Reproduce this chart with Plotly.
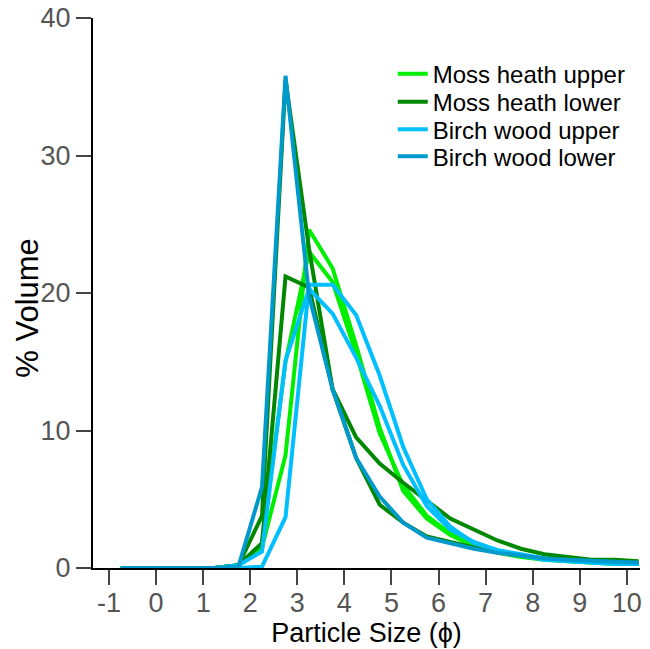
import plotly.graph_objects as go

phi = [-0.75, -0.25, 0.25, 0.75, 1.25, 1.75, 2.25, 2.75, 3.25, 3.75, 4.25, 4.75,
       5.25, 5.75, 6.25, 6.75, 7.25, 7.75, 8.25, 8.75, 9.25, 9.75, 10.25]

moss_upper_a = [0, 0, 0, 0, 0, 0.2, 1.5, 8.2, 24.6, 21.8, 16.2, 10.2, 5.6, 3.6, 2.4, 1.6, 1.1, 0.8, 0.6, 0.5, 0.4, 0.3, 0.3]
moss_upper_b = [0, 0, 0, 0, 0, 0.2, 1.8, 15.0, 23.0, 20.8, 15.6, 9.8, 6.0, 3.8, 2.5, 1.7, 1.2, 0.9, 0.7, 0.5, 0.4, 0.35, 0.3]
moss_lower_a = [0, 0, 0, 0, 0, 0.2, 3.8, 35.5, 23.2, 13.0, 8.0, 4.6, 3.3, 2.3, 1.9, 1.5, 1.2, 0.9, 0.7, 0.6, 0.5, 0.4, 0.4]
moss_lower_b = [0, 0, 0, 0, 0, 0.2, 1.8, 21.2, 20.4, 13.0, 9.5, 7.6, 6.2, 4.9, 3.6, 2.8, 2.0, 1.4, 1.0, 0.8, 0.6, 0.6, 0.5]
birch_upper_a = [0, 0, 0, 0, 0, 0, 0.1, 3.7, 20.6, 20.6, 18.4, 14.0, 8.8, 5.0, 3.0, 1.8, 1.3, 0.9, 0.6, 0.5, 0.4, 0.3, 0.3]
birch_upper_b = [0, 0, 0, 0, 0, 0.2, 1.2, 15.1, 20.3, 18.5, 15.3, 11.8, 7.5, 4.5, 2.8, 1.9, 1.3, 1.0, 0.7, 0.5, 0.4, 0.35, 0.3]
birch_lower_a = [0, 0, 0, 0, 0, 0.1, 5.9, 35.8, 19.8, 13.0, 8.0, 5.2, 3.3, 2.2, 1.8, 1.4, 1.1, 0.9, 0.7, 0.6, 0.5, 0.45, 0.4]

x_tick_vals = [-1, 0, 1, 2, 3, 4, 5, 6, 7, 8, 9, 10]
x_tick_text = ["-1", "0", "1", "2", "3", "4", "5", "6", "7", "8", "9", "10"]
y_tick_vals = [0, 10, 20, 30, 40]

series = [
    ("Moss heath upper", "#00EE00", [moss_upper_a, moss_upper_b]),
    ("Moss heath lower", "#008800", [moss_lower_a, moss_lower_b]),
    ("Birch wood upper", "#00BFFF", [birch_upper_a, birch_upper_b]),
    ("Birch wood lower", "#0099CC", [birch_lower_a]),
]

legend_ids = ["legend", "legend2", "legend3", "legend4"]
legend_rows_y = [0.898, 0.847, 0.797, 0.748]

fig = go.Figure()
for k, (name, color, lines) in enumerate(series):
    for i, ys in enumerate(lines):
        fig.add_trace(go.Scatter(
            x=phi, y=ys, mode="lines", name=name, legend=legend_ids[k],
            showlegend=(i == 0), line=dict(color=color, width=4)))

legend_common = dict(x=0.548, xanchor="left", yanchor="middle",
                     bgcolor="rgba(0,0,0,0)", borderwidth=0,
                     font=dict(family="Liberation Sans, Arial", size=24, color="black"))

fig.update_layout(
    width=650, height=649,
    margin=dict(l=93, r=10, t=18, b=81),
    paper_bgcolor="white", plot_bgcolor="white",
    font=dict(family="Liberation Sans, Arial", size=22, color="black"),
    showlegend=True,
    legend=dict(y=legend_rows_y[0], **legend_common),
    legend2=dict(y=legend_rows_y[1], **legend_common),
    legend3=dict(y=legend_rows_y[2], **legend_common),
    legend4=dict(y=legend_rows_y[3], **legend_common),
    xaxis=dict(range=[-1.34, 10.28], tickmode="array", tickvals=x_tick_vals, ticktext=x_tick_text,
               showline=True, linecolor="black", linewidth=2, automargin=False,
               ticks="outside", ticklen=15, tickwidth=2, tickcolor="#444",
               ticklabelstandoff=-5,
               tickfont=dict(size=27, color="#555"), showgrid=False, zeroline=False,
               title=dict(text="Particle Size (ϕ)", font=dict(size=27, color="black"), standoff=4)),
    yaxis=dict(range=[0, 40], tickmode="array", tickvals=y_tick_vals,
               showline=True, linecolor="black", linewidth=2, automargin=False,
               ticks="outside", ticklen=15, tickwidth=2, tickcolor="#444",
               tickfont=dict(size=27, color="#555"), showgrid=False, zeroline=False),
    annotations=[dict(text="% Volume", textangle=-90, xref="paper", yref="paper",
                      x=-0.119, y=0.473, xanchor="center", yanchor="middle", showarrow=False,
                      font=dict(family="Liberation Sans, Arial", size=31, color="black"))],
)

fig.write_html("out.html")
